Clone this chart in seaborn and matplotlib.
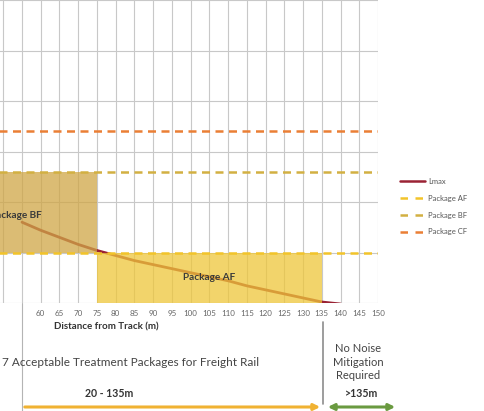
import matplotlib
matplotlib.use("Agg")
import matplotlib.pyplot as plt
import seaborn as sns
import pandas as pd
from matplotlib.patches import FancyArrowPatch
from matplotlib.lines import Line2D

# ---------------- data ----------------
distance_m = [55, 60, 65, 70, 75, 80, 85, 90, 95, 100, 105, 110, 115, 120, 125, 130, 135, 140]
lmax_db = [58.0, 57.2, 56.5, 55.8, 55.2, 54.7, 54.2, 53.8, 53.4, 53.0, 52.6, 52.2, 51.7, 51.3, 50.9, 50.5, 50.1, 49.9]

pkg_names = ["Package AF", "Package BF", "Package CF"]
pkg_levels = [55, 63, 67]
pkg_colors = ["#f2c42a", "#d2b042", "#ea7f35"]

box_labels = ["Package AF", "Package BF"]
box_start = [75, 20]
box_end = [135, 75]
box_bottom = [50, 55]
box_top = [55, 63]
box_colors = ["#eec63a", "#cfa646"]

x_ticks = list(range(5, 155, 5))
x_first_labelled = 60
y_ticks = list(range(50, 85, 5))

caption = "7 Acceptable Treatment Packages for Freight Rail"
range_left = "20 - 135m"
range_right_title = "No Noise\nMitigation\nRequired"
range_right = ">135m"

# ---------------- figure ----------------
sns.set_theme(style="white")
plt.rcParams["font.family"] = ["Lato", "DejaVu Sans"]

W, H = 484, 411
fig = plt.figure(figsize=(W / 100, H / 100), dpi=100)
fig.patch.set_facecolor("white")

px_per_m = (378 - 22) / 95.0
left_px = 22 - (55 - 5) * px_per_m
ax = fig.add_axes([left_px / W, (H - 303) / H, (378 - left_px) / W, 303 / H])
ax.set_xlim(5, 150)
ax.set_ylim(50, 80)
ax.set_xticks(x_ticks)
ax.set_xticklabels([str(t) if t >= x_first_labelled else "" for t in x_ticks])
ax.set_yticks(y_ticks)
ax.set_yticklabels([])
ax.tick_params(axis="x", length=0, pad=5, labelsize=5.8, labelcolor="#666666")
ax.tick_params(axis="y", length=0)
ax.grid(True, color="#c8c8c8", lw=0.8)
for s in ax.spines.values():
    s.set_visible(False)

df = pd.DataFrame({"Distance": distance_m, "Lmax": lmax_db})
sns.lineplot(data=df, x="Distance", y="Lmax", color="#9a2234", lw=2.0, ax=ax,
             legend=False, zorder=2)

for s_, e_, b_, t_, c_ in zip(box_start, box_end, box_bottom, box_top, box_colors):
    ax.fill_between([s_, e_], [b_, b_], [t_, t_], color=c_, alpha=0.75, lw=0, zorder=3)

dash = (0, (3.2, 2.2))
for lvl, c_ in zip(pkg_levels, pkg_colors):
    ax.hlines(lvl, 5, 150, colors=c_, linestyles=dash, lw=1.8, zorder=4)

ax.set_xlabel("Distance from Track (m)", fontsize=7, fontweight="bold",
              color="#333333", labelpad=4)
ax.set_ylabel("")

# box labels
ax.text((box_start[0] + box_end[0]) / 2, (box_bottom[0] + box_top[0]) / 2, box_labels[0],
        ha="center", va="center", fontsize=7.2, fontweight="bold", color="#3a3a3a", zorder=5)
ax.text(60.3, 58.7, box_labels[1], ha="right", va="center", fontsize=7.2,
        fontweight="bold", color="#3a3a3a", zorder=5)

# legend
handles = [Line2D([], [], color="#9a2234", lw=1.8)]
for c_ in pkg_colors:
    handles.append(Line2D([], [], color=c_, lw=1.8, linestyle=(0, (3.0, 3.0))))
ax.legend(handles, ["Lmax"] + pkg_names, loc="upper left",
          bbox_to_anchor=(400 / W, 1 - 178 / H), bbox_transform=fig.transFigure,
          frameon=False, fontsize=5.5, handlelength=3.3, handletextpad=0.4,
          labelspacing=1.28, borderpad=0, borderaxespad=0, labelcolor="#555555")

# lower diagram part
fig.add_artist(Line2D([22 / W, 22 / W], [0, 1 - 303 / H], transform=fig.transFigure,
                      color="#b4b4b4", lw=0.8))
fig.add_artist(Line2D([323 / W, 323 / W], [1 - 322 / H, 1 - 404 / H], transform=fig.transFigure,
                      color="#8c8c8c", lw=1.2))

fig.text(2 / W, 1 - 362 / H, caption, ha="left", va="center", fontsize=8.5, color="#444444")
fig.text(109 / W, 1 - 393 / H, range_left, ha="center", va="center", fontsize=7.6,
         fontweight="bold", color="#333333")
fig.text(358 / W, 1 - 362 / H, range_right_title, ha="center", va="center", fontsize=8,
         color="#444444", linespacing=1.3)
fig.text(362 / W, 1 - 393 / H, range_right, ha="center", va="center", fontsize=7.6,
         fontweight="bold", color="#333333")

fig.patches.append(FancyArrowPatch((22 / W, 1 - 407 / H), (323 / W, 1 - 407 / H),
                                   transform=fig.transFigure, arrowstyle="-|>",
                                   mutation_scale=9, color="#f0b232", lw=2.2))
fig.patches.append(FancyArrowPatch((325 / W, 1 - 407 / H), (398 / W, 1 - 407 / H),
                                   transform=fig.transFigure, arrowstyle="<|-|>",
                                   mutation_scale=9, color="#6a9a40", lw=2.2))

fig.savefig("out.png", dpi=100, facecolor="white")
